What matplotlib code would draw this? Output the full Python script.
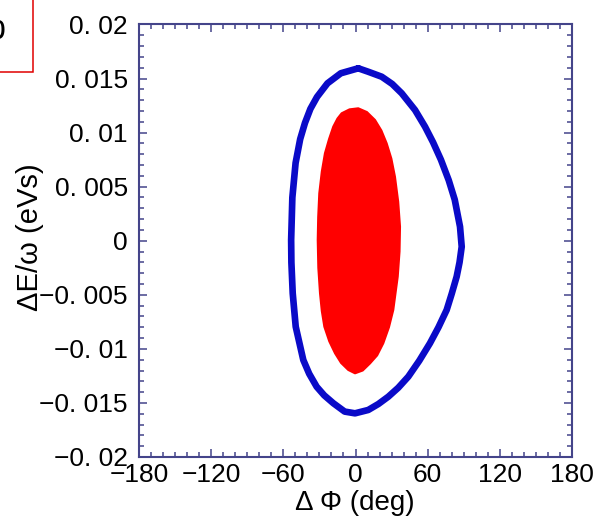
import matplotlib
matplotlib.use("Agg")
import matplotlib.pyplot as plt
from matplotlib.patches import Rectangle
from matplotlib.ticker import MultipleLocator, FixedLocator

# ---- data ----
blue_phi = [2.3, 10.6, 21.8, 30.5, 38.4, 49.5, 57.8, 64.5, 71.0, 77.5, 82.5, 86.9, 88.3,
            86.5, 84.1, 80.0, 75.8, 69.0, 61.9, 53.0, 43.9, 35.5, 27.3, 19.0, 10.6, -0.4,
            -9.0, -18.4, -26.0, -32.3, -38.5, -43.4, -49.7, -52.2, -53.3, -53.5, -52.5,
            -49.8, -46.0, -42.0, -37.5, -32.0, -23.3, -12.2, 2.3]
blue_de = [0.01595, 0.01563, 0.01517, 0.01450, 0.01364, 0.01209, 0.01055, 0.00910,
           0.00750, 0.00560, 0.00380, 0.00130, -0.00055, -0.00200, -0.00332, -0.00490,
           -0.00640, -0.00800, -0.00948, -0.01110, -0.01257, -0.01360, -0.01442, -0.01510,
           -0.01565, -0.01596, -0.01580, -0.01503, -0.01430, -0.01350, -0.01230, -0.01103,
           -0.00795, -0.00486, -0.00200, 0.00007, 0.00400, 0.00720, 0.00940, 0.01090,
           0.01220, 0.01330, 0.01456, 0.01549, 0.01595]

red_phi = [2.3, 9.5, 16.2, 21.5, 25.9, 29.8, 32.8, 35.5, 37.0, 36.6, 35.1, 31.4, 27.8,
           23.1, 18.0, 12.1, 6.0, -0.4, -6.0, -12.0, -17.0, -21.8, -25.9, -28.0, -29.5,
           -30.9, -31.4, -31.0, -30.1, -28.0, -25.4, -22.0, -18.5, -15.0, -11.5, -5.0]
red_de = [0.01225, 0.01190, 0.01117, 0.01020, 0.00901, 0.00760, 0.00592, 0.00360,
          0.00130, -0.00100, -0.00332, -0.00640, -0.00800, -0.00948, -0.01060, -0.01134,
          -0.01200, -0.01226, -0.01195, -0.01130, -0.01041, -0.00930, -0.00795, -0.00650,
          -0.00486, -0.00250, 0.00007, 0.00220, 0.00439, 0.00640, 0.00809, 0.00940,
          0.01055, 0.01130, 0.01179, 0.01215]

x_ticks = [-180, -120, -60, 0, 60, 120, 180]
x_labels = ["\u2212180", "\u2212120", "\u221260", "0", "60", "120", "180"]
y_ticks = [-0.02, -0.015, -0.01, -0.005, 0, 0.005, 0.01, 0.015, 0.02]
y_labels = ["\u22120. 02", "\u22120. 015", "\u22120. 01", "\u22120. 005", "0",
            "0. 005", "0. 01", "0. 015", "0. 02"]

W, H = 597, 520
fig = plt.figure(figsize=(W / 100, H / 100), dpi=100)
ax = fig.add_axes([139 / W, 1 - 457 / H, 433 / W, 432.5 / H])

spine_col = "#44448a"
fam = ["Liberation Sans", "DejaVu Sans"]

ax.fill(red_phi, red_de, color="#ff0000", edgecolor="#ff0000", linewidth=1.5,
        joinstyle="round", zorder=2)
ax.plot(blue_phi, blue_de, color="#0a0ac8", linewidth=4.8, solid_joinstyle="round",
        solid_capstyle="round", zorder=3)

ax.set_xlim(-180, 180)
ax.set_ylim(-0.02, 0.02)
ax.xaxis.set_major_locator(FixedLocator(x_ticks))
ax.yaxis.set_major_locator(FixedLocator(y_ticks))
ax.set_xticklabels(x_labels)
ax.set_yticklabels(y_labels)
ax.xaxis.set_minor_locator(MultipleLocator(10))
ax.yaxis.set_minor_locator(MultipleLocator(0.001))

ax.tick_params(which="both", direction="in", top=True, right=True, color=spine_col,
               width=1.1, labelcolor="black")
ax.tick_params(which="major", length=6)
ax.tick_params(which="minor", length=3.6)
ax.tick_params(axis="x", which="major", pad=4)
ax.tick_params(axis="y", which="major", pad=8)
for lab in ax.get_xticklabels() + ax.get_yticklabels():
    lab.set_family(fam)
    lab.set_fontsize(19)

for sp in ax.spines.values():
    sp.set_color(spine_col)
    sp.set_linewidth(1.5)

fig.text(355 / W, 1 - 503 / H, "\u0394 \u03a6 (deg)", ha="center", va="center",
         fontsize=20, family=fam)
fig.text(30 / W, 1 - 237 / H, "\u0394E/\u03c9 (eVs)", ha="center", va="center",
         rotation=90, fontsize=21, family=fam)

# partially visible boxed label at the top-left corner
fig.patches.append(Rectangle((-0.2, 1 - 71.7 / H), 0.2 + 33 / W, 0.5,
                             transform=fig.transFigure, facecolor="white",
                             edgecolor="#e00000", linewidth=1.1, zorder=5))
fig.text(6 / W, 1 - 28 / H, "%", ha="right", va="center", fontsize=30,
         family=fam, zorder=6)

fig.savefig("out.png", dpi=100)
